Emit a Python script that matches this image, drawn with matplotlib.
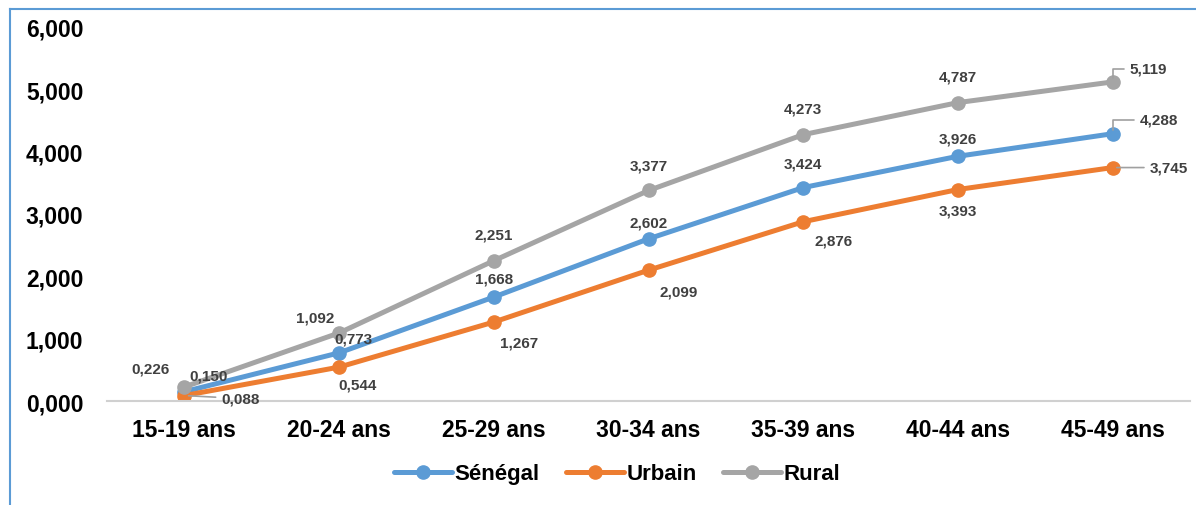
import matplotlib
matplotlib.use('Agg')
import matplotlib.pyplot as plt
from matplotlib.lines import Line2D

plt.rcParams['font.family'] = ['Liberation Sans', 'DejaVu Sans']

ages = ['15-19 ans', '20-24 ans', '25-29 ans', '30-34 ans', '35-39 ans', '40-44 ans', '45-49 ans']
senegal = [0.150, 0.773, 1.668, 2.602, 3.424, 3.926, 4.288]
urbain = [0.088, 0.544, 1.267, 2.099, 2.876, 3.393, 3.745]
rural = [0.226, 1.092, 2.251, 3.377, 4.273, 4.787, 5.119]

def fr(v):
    return f'{v:.3f}'.replace('.', ',')

fig = plt.figure(figsize=(11.96, 5.06), dpi=100)
ax = fig.add_axes([0.0895, 0.2055, 0.9055, 0.7392])

x = range(len(ages))
series = [('Sénégal', senegal, '#5B9BD5'),
          ('Urbain', urbain, '#ED7D31'),
          ('Rural', rural, '#A5A5A5')]
for name, vals, col in series:
    ax.plot(x, vals, color=col, lw=3.6, marker='o', ms=9.5, label=name,
            solid_capstyle='round')

# label offsets in pixels (dx, dy) for each point
off_rural = [(-34, 18), (-24, 15), (0, 26), (0, 25), (0, 26), (0, 26), (36, 13)]
off_sen = [(24, 16), (14, 14), (0, 19), (0, 16), (0, 24), (0, 18), (46, 14)]
off_urb = [(56, -3), (18, -17), (25, -20), (30, -21), (30, -19), (0, -21), (56, 0)]
leader = {('Rural', 6), ('Sénégal', 6), ('Urbain', 6), ('Urbain', 0)}

for (name, vals, col), offs in zip(series, [off_sen, off_urb, off_rural]):
    for i, v in enumerate(vals):
        dx, dy = offs[i]
        kw = {}
        if (name, i) in leader:
            if dy > 5:
                cs = 'angle,angleA=0,angleB=90,rad=0'
            else:
                cs = 'arc3'
            kw['arrowprops'] = dict(arrowstyle='-', color='#A0A0A0', lw=1.2,
                                    connectionstyle=cs, shrinkA=2, shrinkB=3)
        ax.annotate(fr(v), (i, v), xytext=(dx, dy), textcoords='offset pixels',
                    ha='center', va='center', fontsize=11, fontweight='bold',
                    color='#404040', **kw)

ax.set_xlim(-0.5, 6.5)
ax.set_ylim(0, 6)
ax.set_yticks([0, 1, 2, 3, 4, 5, 6])
ax.set_yticklabels([fr(t) for t in [0, 1, 2, 3, 4, 5, 6]])
ax.set_xticks(list(x))
ax.set_xticklabels(ages)
for lab in ax.get_xticklabels() + ax.get_yticklabels():
    lab.set_fontweight('bold')
    lab.set_fontsize(16.5)
ax.tick_params(axis='both', length=0)
ax.tick_params(axis='y', pad=17)
ax.tick_params(axis='x', pad=12)
for s in ['top', 'right', 'left']:
    ax.spines[s].set_visible(False)
ax.spines['bottom'].set_color('#D0D0D0')
ax.spines['bottom'].set_linewidth(1.5)

leg = ax.legend(loc='center', bbox_to_anchor=(0.471, -0.195), ncol=3, frameon=False,
                prop={'weight': 'bold', 'size': 16}, handlelength=2.6,
                handletextpad=0.1, columnspacing=1.2)

# outer frame lines (left and top)
fig.add_artist(Line2D([10 / 1196, 10 / 1196], [0, 1 - 10 / 506], color='#5B9BD5', lw=1.5))
fig.add_artist(Line2D([10 / 1196, 1], [1 - 10 / 506, 1 - 10 / 506], color='#5B9BD5', lw=1.5))

fig.savefig('out.png', dpi=100)
